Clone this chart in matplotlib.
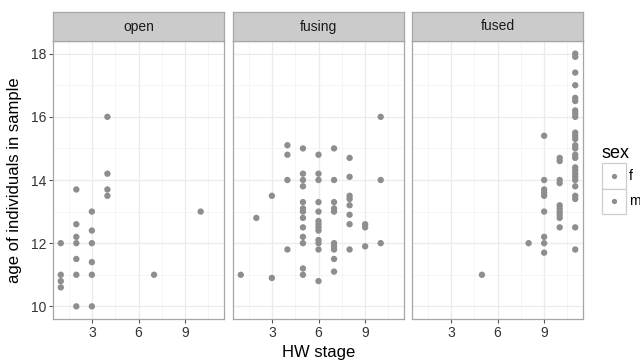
import matplotlib.pyplot as plt
from matplotlib.lines import Line2D
from matplotlib.patches import Rectangle
from matplotlib.ticker import MultipleLocator

plt.rcParams['font.family'] = ['Liberation Sans', 'DejaVu Sans']

# --- data ---
panels = ["open", "fusing", "fused"]

open_x = [4, 4, 2, 4, 4, 3, 10, 2, 3, 2, 1, 2, 3, 2, 3, 1, 2, 3, 7, 1, 1, 2, 3]
open_y = [16.0, 14.2, 13.7, 13.7, 13.5, 13.0, 13.0, 12.6, 12.4, 12.2, 12.0, 12.0, 12.0,
          11.5, 11.4, 11.0, 11.0, 11.0, 11.0, 10.8, 10.6, 10.0, 10.0]

fusing_x = [1, 2, 3, 3,
            4, 4, 4, 4,
            5, 5, 5, 5, 5, 5, 5, 5, 5, 5, 5, 5, 5,
            6, 6, 6, 6, 6, 6, 6, 6, 6, 6, 6, 6, 6,
            7, 7, 7, 7, 7, 7, 7, 7, 7, 7,
            8, 8, 8, 8, 8, 8, 8, 8,
            9, 9, 9,
            10, 10, 10]
fusing_y = [11.0, 12.8, 13.5, 10.9,
            15.1, 14.8, 14.0, 11.8,
            15.0, 14.2, 14.0, 13.8, 13.3, 13.1, 13.0, 12.8, 12.5, 12.2, 12.0, 11.2, 11.0,
            14.8, 14.2, 14.0, 13.3, 13.0, 12.7, 12.6, 12.5, 12.4, 12.1, 12.0, 11.8, 10.8,
            15.0, 14.0, 13.3, 13.1, 13.0, 12.0, 11.9, 11.8, 11.5, 11.1,
            14.7, 14.1, 13.5, 13.4, 13.2, 12.9, 12.6, 11.8,
            12.6, 12.5, 11.9,
            16.0, 14.0, 12.0]

fused_x = [5, 8,
           9, 9, 9, 9, 9, 9, 9, 9, 9,
           10, 10, 10, 10, 10, 10, 10, 10, 10, 10,
           11, 11, 11, 11, 11, 11, 11, 11, 11, 11, 11, 11, 11,
           11, 11, 11, 11, 11, 11, 11, 11, 11, 11, 11, 11, 11]
fused_y = [11.0, 12.0,
           15.4, 14.0, 13.7, 13.6, 13.5, 13.0, 12.2, 12.0, 11.7,
           14.7, 14.6, 14.0, 13.9, 13.2, 13.1, 13.0, 12.9, 12.8, 12.5,
           18.0, 17.9, 17.4, 17.0, 16.6, 16.5, 16.2, 16.1, 16.0, 15.5, 15.4, 15.3, 15.1,
           15.0, 14.8, 14.7, 14.4, 14.3, 14.2, 14.1, 14.0, 13.8, 13.5, 13.4, 12.5, 11.8]

xs = [open_x, fusing_x, fused_x]
ys = [open_y, fusing_y, fused_y]

sex_levels = ["f", "m"]

# --- drawing ---
W, H = 640, 360
fig = plt.figure(figsize=(6.4, 3.6), dpi=100)

point_col = "#8e8e8e"
lefts = [53, 233, 412]
pw = 171
top, bottom = 41, 319
strip_top = 12

for i, name in enumerate(panels):
    ax = fig.add_axes([lefts[i] / W, (H - bottom) / H, pw / W, (bottom - top) / H])
    ax.scatter(xs[i], ys[i], s=21, color=point_col, edgecolors="none", zorder=3)
    ax.set_xlim(0.5, 11.5)
    ax.set_ylim(9.6, 18.4)
    ax.xaxis.set_major_locator(MultipleLocator(3))
    ax.xaxis.set_minor_locator(MultipleLocator(1.5))
    ax.yaxis.set_major_locator(MultipleLocator(2))
    ax.yaxis.set_minor_locator(MultipleLocator(1))
    ax.set_xticks([3, 6, 9])
    ax.grid(True, which="major", color="#ebebeb", linewidth=0.9)
    ax.grid(True, which="minor", color="#f4f4f4", linewidth=0.6)
    ax.set_axisbelow(True)
    for sp in ax.spines.values():
        sp.set_color("#a6a6a6")
        sp.set_linewidth(0.9)
    ax.tick_params(which="minor", length=0)
    ax.tick_params(which="major", length=3, color="#555555", labelsize=10,
                   labelcolor="#333333", pad=2)
    if i > 0:
        ax.tick_params(axis="y", left=False, labelleft=False)

    # facet strip
    sax = fig.add_axes([lefts[i] / W, (H - top) / H, pw / W, (top - strip_top) / H])
    sax.set_facecolor("#cbcbcb")
    sax.set_xticks([])
    sax.set_yticks([])
    for sp in sax.spines.values():
        sp.set_color("#a6a6a6")
        sp.set_linewidth(0.9)
    sax.text(0.5, 0.5, name, ha="center", va="center", fontsize=10, color="#1a1a1a",
             transform=sax.transAxes)

fig.text(319 / W, 1 - 352 / H, "HW stage", ha="center", va="center", fontsize=12)
fig.text(15 / W, 1 - 180 / H, "age of individuals in sample", ha="center", va="center",
         rotation=90, fontsize=12)

# legend drawn by hand, ggplot style (boxed keys)
fig.text(601 / W, 1 - 153 / H, "sex", ha="left", va="center", fontsize=13)
key_top = 163
key_h = 25.5
for k, lab in enumerate(sex_levels):
    y0 = key_top + k * key_h
    fig.add_artist(Rectangle((602 / W, 1 - (y0 + key_h) / H), 24 / W, key_h / H,
                             transform=fig.transFigure, facecolor="white",
                             edgecolor="#cccccc", linewidth=0.9))
    fig.add_artist(Line2D([614 / W], [1 - (y0 + key_h / 2) / H], marker="o",
                          linestyle="", color=point_col, markersize=3.8,
                          markeredgewidth=0, transform=fig.transFigure))
    fig.text(629 / W, 1 - (y0 + key_h / 2) / H, lab, ha="left", va="center",
             fontsize=10)

fig.savefig("out.png", dpi=100)
